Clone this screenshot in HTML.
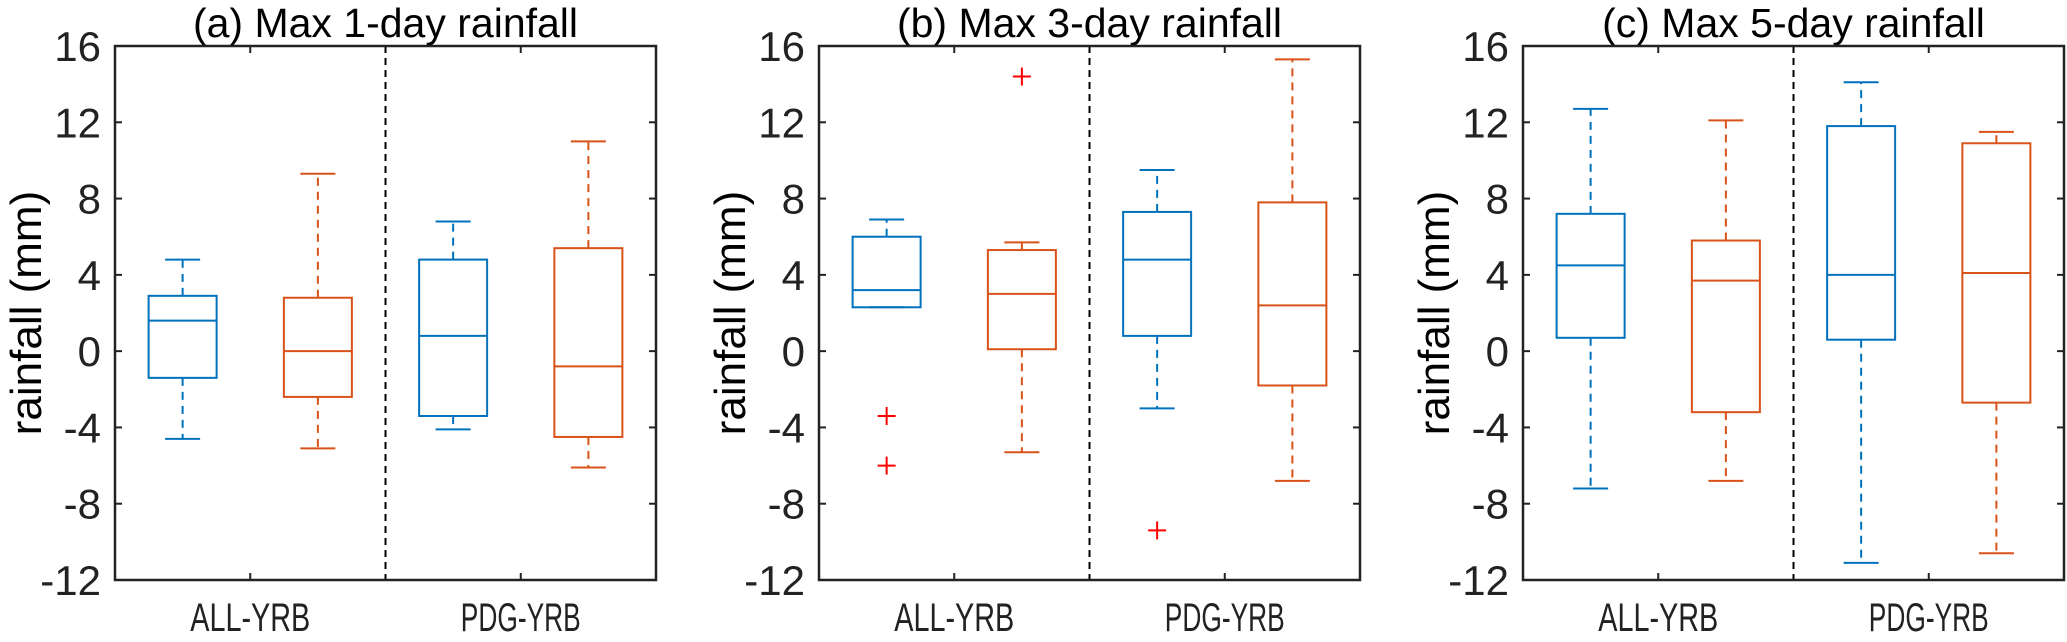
<!DOCTYPE html>
<html><head><meta charset="utf-8">
<style>
html,body{margin:0;padding:0;background:#fff;}
svg{display:block;font-family:"Liberation Sans",sans-serif;}
</style></head>
<body>
<svg id="chart" width="2067" height="642" viewBox="0 0 2067 642" xmlns="http://www.w3.org/2000/svg"></svg>
<script>
const panelTitles = ["(a) Max 1-day rainfall","(b) Max 3-day rainfall","(c) Max 5-day rainfall"];
const categories = ["ALL-YRB","PDG-YRB"];
const yTicks = [-12,-8,-4,0,4,8,12,16];
// each box: [whiskerMin, q1, median, q3, whiskerMax]
const panelA_blue = [[-4.6,-1.4,1.6,2.9,4.8],[-4.1,-3.4,0.8,4.8,6.8]];
const panelA_orange = [[-5.1,-2.4,0,2.8,9.3],[-6.1,-4.5,-0.8,5.4,11.0]];
const panelB_blue = [[2.3,2.3,3.2,6.0,6.9],[-3.0,0.8,4.8,7.3,9.5]];
const panelB_orange = [[-5.3,0.1,3.0,5.3,5.7],[-6.8,-1.8,2.4,7.8,15.3]];
const panelC_blue = [[-7.2,0.7,4.5,7.2,12.7],[-11.1,0.6,4.0,11.8,14.1]];
const panelC_orange = [[-6.8,-3.2,3.7,5.8,12.1],[-10.6,-2.7,4.1,10.9,11.5]];
const panelA_outBlue = [[],[]];
const panelA_outOrange = [[],[]];
const panelB_outBlue = [[-3.4,-6.0],[-9.4]];
const panelB_outOrange = [[14.4],[]];
const panelC_outBlue = [[],[]];
const panelC_outOrange = [[],[]];

const panels = [
 {blue:panelA_blue,orange:panelA_orange,ob:panelA_outBlue,oo:panelA_outOrange},
 {blue:panelB_blue,orange:panelB_orange,ob:panelB_outBlue,oo:panelB_outOrange},
 {blue:panelC_blue,orange:panelC_orange,ob:panelC_outBlue,oo:panelC_outOrange}
];
const NS="http://www.w3.org/2000/svg";
const svg=document.getElementById('chart');
function mk(tag,attrs,parent){const e=document.createElementNS(NS,tag);for(const k in attrs)e.setAttribute(k,attrs[k]);(parent||svg).appendChild(e);return e;}
const TOP=46,BOT=580,W=541,YMIN=-12,YMAX=16;
const lefts=[115,819,1523];
function yS(v){return BOT-(v-YMIN)/(YMAX-YMIN)*(BOT-TOP);}
const BLUE="#0072BD",ORANGE="#D95319";
panels.forEach((p,pi)=>{
  const L=lefts[pi],R=L+W;
  function xS(i){return L+W*(0.25+0.5*i);}
  const g=mk('g',{});
  
  
  const t=mk('text',{x:(L+R)/2,y:37,'text-anchor':'middle','font-size':41,fill:'#000'},g);
  t.textContent=panelTitles[pi];
  
  
  const d=mk('line',{x1:(L+R)/2,x2:(L+R)/2,y1:TOP,y2:BOT,stroke:'#000','stroke-width':2,'stroke-dasharray':'7,5'},g);
  
  
  yTicks.forEach(v=>{
    const y=yS(v);
    mk('line',{x1:L,x2:L+7,y1:y,y2:y,stroke:'#222','stroke-width':2},g);
    mk('line',{x1:R,x2:R-7,y1:y,y2:y,stroke:'#222','stroke-width':2},g);
    const tl=mk('text',{x:L-14,y:y+15,'text-anchor':'end','font-size':42,fill:'#222'},g);
    tl.textContent=v;
    
    
  });
  categories.forEach((c,i)=>{
    const x=xS(i);
    mk('line',{x1:x,x2:x,y1:BOT,y2:BOT-7,stroke:'#222','stroke-width':2},g);
    mk('line',{x1:x,x2:x,y1:TOP,y2:TOP+7,stroke:'#222','stroke-width':2},g);
    const xl=mk('text',{x:x,y:631,'text-anchor':'middle','font-size':40,fill:'#222',textLength:120,lengthAdjust:'spacingAndGlyphs'},g);
    xl.textContent=c;
    
    
  });
  const yl=mk('text',{x:0,y:0,'text-anchor':'middle','font-size':44,fill:'#000',transform:`translate(${L-74},${(TOP+BOT)/2}) rotate(-90)`},g);
  yl.textContent='rainfall (mm)';
  
  
  function drawBox(vals,outs,x,col,name){
    const bg=mk('g',{},g);
    
    
    const [mn,q1,md,q3,mx]=vals, hw=34, cw=17.5;
    mk('line',{x1:x,x2:x,y1:yS(q3),y2:yS(mx),stroke:col,'stroke-width':2,'stroke-dasharray':'8,6'},bg);
    mk('line',{x1:x,x2:x,y1:yS(q1),y2:yS(mn),stroke:col,'stroke-width':2,'stroke-dasharray':'8,6'},bg);
    mk('line',{x1:x-cw,x2:x+cw,y1:yS(mx),y2:yS(mx),stroke:col,'stroke-width':2},bg);
    mk('line',{x1:x-cw,x2:x+cw,y1:yS(mn),y2:yS(mn),stroke:col,'stroke-width':2},bg);
    mk('rect',{x:x-hw,y:yS(q3),width:2*hw,height:yS(q1)-yS(q3),fill:'none',stroke:col,'stroke-width':2},bg);
    mk('line',{x1:x-hw,x2:x+hw,y1:yS(md),y2:yS(md),stroke:col,'stroke-width':2},bg);
    outs.forEach(o=>{
      const y=yS(o);
      const pg=mk('g',{stroke:'#FF0000','stroke-width':2},bg);
      
      
      mk('line',{x1:x-9,x2:x+9,y1:y,y2:y},pg);
      mk('line',{x1:x,x2:x,y1:y-9,y2:y+9},pg);
    });
  }
  categories.forEach((c,i)=>{
    const x=xS(i), off=W*0.125;
    drawBox(p.blue[i],p.ob[i],x-off,BLUE,'box-blue-'+c.toLowerCase());
    drawBox(p.orange[i],p.oo[i],x+off,ORANGE,'box-orange-'+c.toLowerCase());
  });
  const fr=mk('rect',{x:L,y:TOP,width:W,height:BOT-TOP,fill:'none',stroke:'#222','stroke-width':2.5},g);
  
  
});
</script>
</body></html>
